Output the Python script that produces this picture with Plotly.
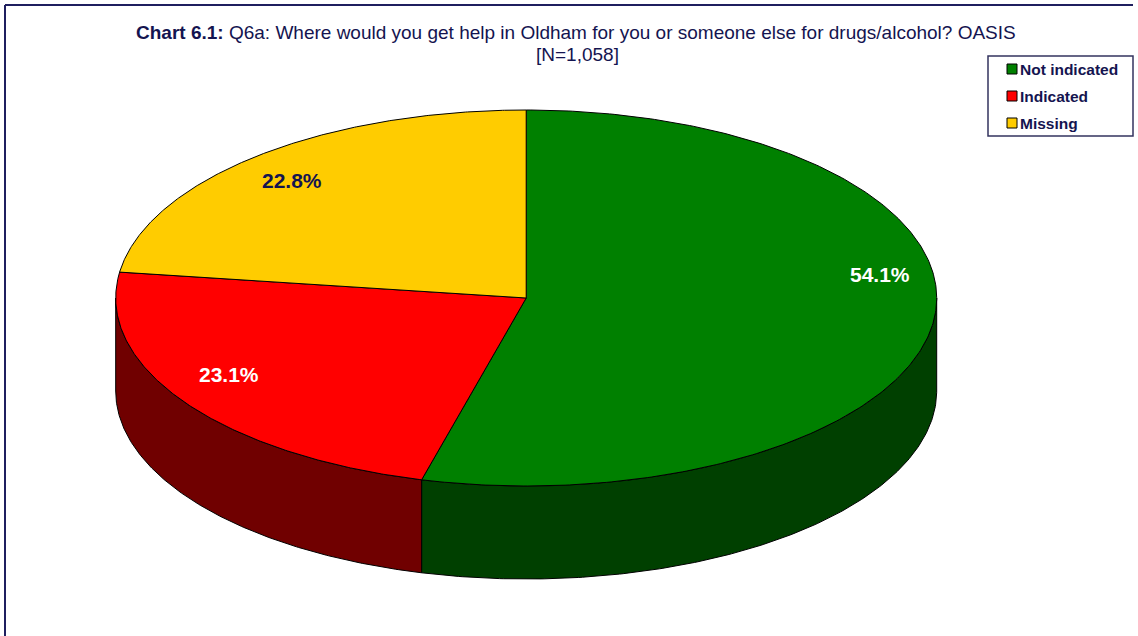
import numpy as np
import plotly.graph_objects as go

# ---- data ----
categories = ["Not indicated", "Indicated", "Missing"]
percentages = [54.1, 23.1, 22.8]

# ---- styles ----
top_colors = ["#008000", "#FF0000", "#FFCC00"]
side_colors = ["#004000", "#700000", "#8a6e00"]
label_colors = ["#FFFFFF", "#FFFFFF", "#141450"]
label_k = 0.87
label_dy = [-45, -14, 6]
navy = "#141450"
FONT = "Liberation Sans, Arial, sans-serif"

W, H = 1138, 636
cx, cy = 526.2, 298.0
rx, ry = 410.5, 188.0
depth = 93.0


def pt(theta_deg, k=1.0, dz=0.0):
    t = np.radians(theta_deg)
    return cx + k * rx * np.sin(t), cy - k * ry * np.cos(t) + dz


fig = go.Figure()

total = sum(percentages)
bounds = [0.0]
for p in percentages:
    bounds.append(bounds[-1] + 360.0 * p / total)

# side walls (front half: 90..270 deg clockwise from top)
for i in range(len(percentages)):
    a, b = max(bounds[i], 90.0), min(bounds[i + 1], 270.0)
    if b <= a:
        continue
    th = np.linspace(a, b, 200)
    xt, yt = pt(th)
    xb, yb = pt(th[::-1], dz=depth)
    xs = np.concatenate([xt, xb, xt[:1]])
    ys = np.concatenate([yt, yb, yt[:1]])
    fig.add_trace(go.Scatter(x=xs, y=ys, mode="lines", fill="toself",
                             fillcolor=side_colors[i],
                             line=dict(color="black", width=1),
                             hoverinfo="skip", showlegend=False))

# top faces
for i in range(len(percentages)):
    th = np.linspace(bounds[i], bounds[i + 1], 300)
    xa, ya = pt(th)
    xs = np.concatenate([[cx], xa, [cx]])
    ys = np.concatenate([[cy], ya, [cy]])
    fig.add_trace(go.Scatter(x=xs, y=ys, mode="lines", fill="toself",
                             fillcolor=top_colors[i],
                             line=dict(color="black", width=1),
                             hoverinfo="skip", showlegend=False))

annotations = []
for i, p in enumerate(percentages):
    mid = (bounds[i] + bounds[i + 1]) / 2
    lx, ly = pt(mid, k=label_k)
    annotations.append(dict(x=lx, y=ly + label_dy[i], xref="x", yref="y",
                            text=f"<b>{p:.1f}%</b>", showarrow=False,
                            font=dict(family=FONT, size=21, color=label_colors[i]),
                            xanchor="center", yanchor="middle"))

# title
annotations.append(dict(x=576, y=32, xref="x", yref="y",
                        text="<b>Chart 6.1:</b> Q6a: Where would you get help in Oldham for you or someone else for drugs/alcohol? OASIS",
                        showarrow=False, align="center",
                        font=dict(family=FONT, size=19, color=navy),
                        xanchor="center", yanchor="middle"))
annotations.append(dict(x=577, y=54, xref="x", yref="y",
                        text="[N=1,058]",
                        showarrow=False, align="center",
                        font=dict(family=FONT, size=19, color=navy),
                        xanchor="center", yanchor="middle"))

shapes = []
# frame (top and left)
shapes.append(dict(type="line", x0=5, y0=5, x1=1133, y1=5, xref="x", yref="y",
                   line=dict(color="#1f1f5f", width=2)))
shapes.append(dict(type="line", x0=5, y0=5, x1=5, y1=H + 5, xref="x", yref="y",
                   line=dict(color="#1f1f5f", width=2)))

# legend
lx0, ly0, lx1, ly1 = 988, 56, 1133, 136
shapes.append(dict(type="rect", x0=lx0, y0=ly0, x1=lx1, y1=ly1, xref="x", yref="y",
                   line=dict(color="#33335f", width=1.5), fillcolor="white"))
for i, c in enumerate(categories):
    yc = 69 + 27 * i
    shapes.append(dict(type="rect", x0=1007, y0=yc - 5, x1=1017, y1=yc + 5,
                       xref="x", yref="y", fillcolor=top_colors[i],
                       line=dict(color="black", width=1)))
    annotations.append(dict(x=1018, y=yc, xref="x", yref="y", text=f"<b>{c}</b>",
                            showarrow=False, xanchor="left", yanchor="middle",
                            font=dict(family=FONT, size=15.5, color=navy)))

fig.update_layout(
    width=W, height=H, autosize=False,
    margin=dict(l=0, r=0, t=0, b=0),
    paper_bgcolor="white", plot_bgcolor="white",
    xaxis=dict(range=[0, W], visible=False, fixedrange=True),
    yaxis=dict(range=[H, 0], visible=False, fixedrange=True),
    annotations=annotations, shapes=shapes, showlegend=False,
)

fig.write_html("out.html")
